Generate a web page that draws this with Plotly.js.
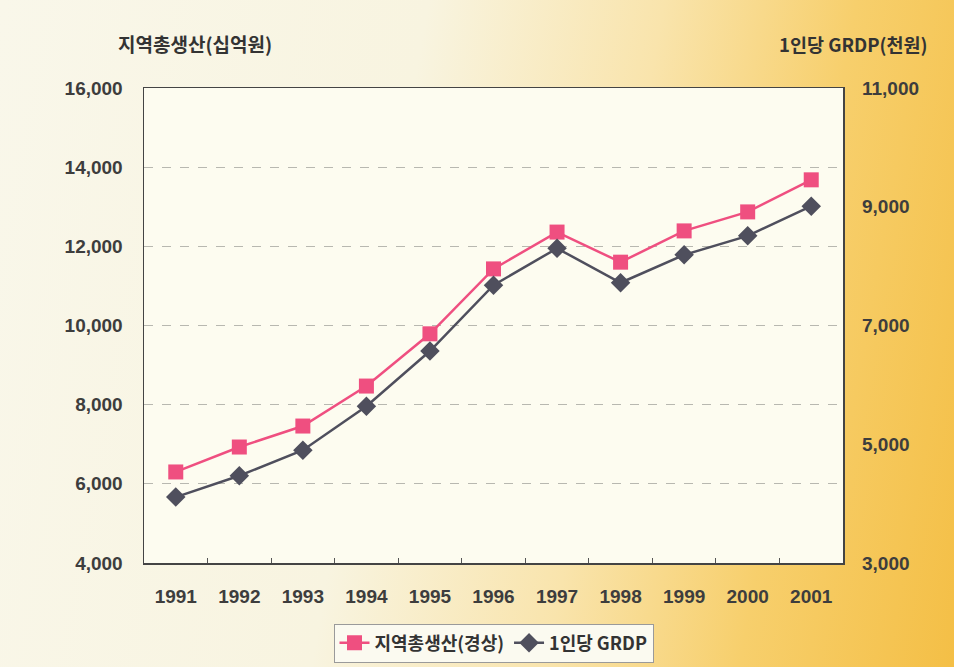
<!DOCTYPE html>
<html>
<head>
<meta charset="utf-8">
<script src="https://cdn.plot.ly/plotly-3.0.1.min.js"></script>
<style>
html,body{margin:0;padding:0;}
body{width:954px;height:667px;overflow:hidden;
background:linear-gradient(100deg,#f9f7ea 0%,#f8f4e0 40%,#f9e4ac 62%,#f7cf6c 80%,#f4bf46 100%);}
#chart{width:954px;height:667px;}
</style>
</head>
<body>
<div id="chart"></div>
<script>
const years = ['1991','1992','1993','1994','1995','1996','1997','1998','1999','2000','2001'];
const grdpTotal = [6300, 6930, 7460, 8470, 9790, 11430, 12360, 11600, 12390, 12870, 13680];
const grdpPerCapita = [4110, 4470, 4900, 5640, 6570, 7680, 8300, 7720, 8190, 8510, 9010];
const leftTicks = [4000, 6000, 8000, 10000, 12000, 14000, 16000];
const rightTicks = [3000, 5000, 7000, 9000, 11000];
const seriesNames = ['지역총생산(경상)', '1인당 GRDP'];
const axisTitles = ['지역총생산(십억원)', '1인당 GRDP(천원)'];

const tickFont = {family: 'Liberation Sans, Arial, sans-serif', size: 19, color: '#3d3d3d', weight: 'bold'};
const fmt = v => v.toLocaleString('en-US');

const traces = [
  {x: years, y: grdpTotal, name: seriesNames[0], type: 'scatter', mode: 'lines+markers',
   line: {color: '#ef4f80', width: 2.5},
   marker: {symbol: 'square', size: 15, color: '#ef4f80'}, yaxis: 'y'},
  {x: years, y: grdpPerCapita, name: seriesNames[1], type: 'scatter', mode: 'lines+markers',
   line: {color: '#4f4f5d', width: 2.5},
   marker: {symbol: 'diamond', size: 15, color: '#4f4f5d'}, yaxis: 'y2'}
];

const layout = {
  width: 954, height: 667,
  margin: {l: 144, r: 111, t: 88, b: 104},
  paper_bgcolor: 'rgba(0,0,0,0)',
  plot_bgcolor: '#fdfcf0',
  showlegend: true,
  legend: {orientation: 'h', x: 0.5, xanchor: 'center', xref: 'paper',
    y: 0.065, yanchor: 'top', yref: 'container',
    bgcolor: '#fbfaf0', bordercolor: '#9a9a9a', borderwidth: 1,
    font: {family: 'Noto Sans CJK KR, sans-serif', size: 18, color: '#333', weight: 'bold'}},
  xaxis: {type: 'category', range: [-0.5, 10.5], tickfont: tickFont, automargin: false,
    showline: true, linecolor: '#444', linewidth: 1.5, mirror: true,
    ticks: 'inside', tickson: 'boundaries', ticklen: 5, tickcolor: '#555',
    ticklabelstandoff: 16, showgrid: false, zeroline: false, fixedrange: true},
  yaxis: {range: [4000, 16000], tickvals: leftTicks, ticktext: leftTicks.map(fmt), automargin: false,
    tickfont: tickFont, showline: true, linecolor: '#444', linewidth: 1.5, mirror: true,
    ticks: '', ticklabelstandoff: 16, showgrid: true, gridcolor: '#b8b8b0', griddash: 'dash',
    gridwidth: 1, zeroline: false},
  yaxis2: {range: [3000, 11000], tickvals: rightTicks, ticktext: rightTicks.map(fmt), automargin: false,
    overlaying: 'y', side: 'right', tickfont: tickFont, showgrid: false, zeroline: false,
    ticks: '', ticklabelstandoff: 18, showline: false},
  annotations: [
    {text: axisTitles[0], xref: 'paper', yref: 'paper', x: -0.04, y: 1.06, xanchor: 'left', yanchor: 'bottom',
     showarrow: false, font: {family: 'Noto Sans CJK KR, sans-serif', size: 19, color: '#333', weight: 'bold'}},
    {text: axisTitles[1], xref: 'paper', yref: 'paper', x: 1.125, y: 1.06, xanchor: 'right', yanchor: 'bottom',
     showarrow: false, font: {family: 'Noto Sans CJK KR, sans-serif', size: 18.5, color: '#333', weight: 'bold'}}
  ]
};

Plotly.newPlot('chart', traces, layout, {displayModeBar: false, staticPlot: true});
</script>
</body>
</html>
